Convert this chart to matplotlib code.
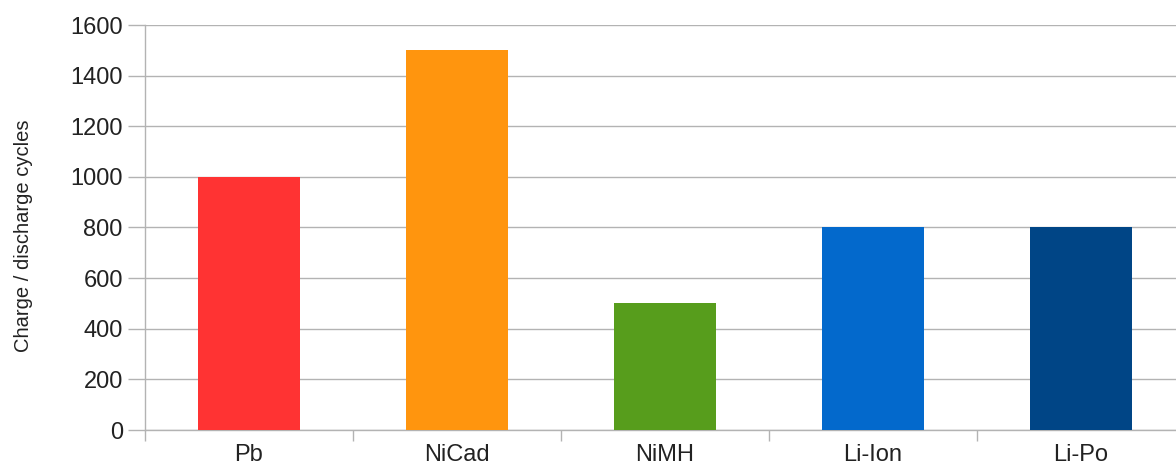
import matplotlib
matplotlib.use("Agg")
import matplotlib.pyplot as plt
import numpy as np

categories = ["Pb", "NiCad", "NiMH", "Li-Ion", "Li-Po"]
cycles = [1000, 1500, 500, 800, 800]
colors = ["#ff3333", "#ff950e", "#579d1c", "#0369cc", "#004586"]
y_ticks = [0, 200, 400, 600, 800, 1000, 1200, 1400, 1600]

plt.rcParams["font.family"] = ["Liberation Sans", "DejaVu Sans"]

fig = plt.figure(figsize=(11.76, 4.65), dpi=100)
ax = fig.add_axes([145 / 1176, 35 / 465, 1040 / 1176, 405 / 465])

x = np.arange(len(categories))
ax.bar(x, cycles, width=0.49, color=colors, zorder=3)

ax.set_xlim(-0.5, len(categories) - 0.5)
ax.set_ylim(0, 1600)
ax.set_yticks(y_ticks)
ax.set_yticklabels([str(v) for v in y_ticks], fontsize=17, color="#222222")

ax.set_xticks(x)
ax.set_xticklabels(categories, fontsize=17, color="#222222")
ax.set_xticks(np.arange(-0.5, len(categories)), minor=True)
ax.tick_params(axis="x", which="major", length=0, pad=10)
ax.tick_params(axis="x", which="minor", length=8, width=1, color="#b3b3b3", direction="out")
ax.tick_params(axis="y", length=12, width=1, color="#b3b3b3", pad=4)

ax.grid(axis="y", color="#b3b3b3", linewidth=1, zorder=0)

for side in ["top", "right"]:
    ax.spines[side].set_visible(False)
for side in ["left", "bottom"]:
    ax.spines[side].set_color("#b3b3b3")
    ax.spines[side].set_linewidth(1)

ax.set_ylabel("Charge / discharge cycles", fontsize=14.5, color="#222222")
ax.yaxis.set_label_coords(-0.108, 0.48)

fig.savefig("out.png", dpi=100)
